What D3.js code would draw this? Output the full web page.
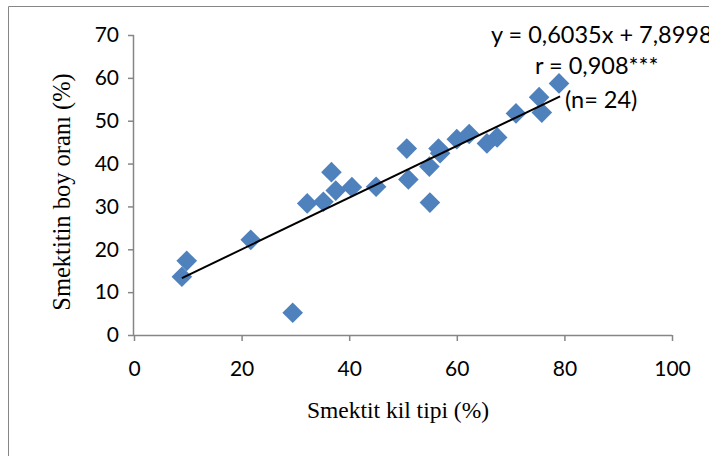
<!DOCTYPE html>
<html>
<head>
<meta charset="utf-8">
<script src="https://cdn.jsdelivr.net/npm/d3@7"></script>
<style>
  body { margin: 0; background: #fff; }
  svg { display: block; }
</style>
</head>
<body>
<svg id="chart" width="709" height="456"></svg>
<script>
// smektit kil tipi (%) vs smektitin boy oranı (%)
const clayType = [8.9, 9.8, 21.7, 29.5, 32.2, 35.2, 36.7, 37.5, 40.5, 45.0, 50.7, 51.0,
  54.9, 55.0, 56.6, 56.9, 60.0, 62.3, 65.6, 67.5, 71.0, 75.3, 75.8, 79.0];
const lengthRatio = [13.6, 17.3, 22.2, 5.2, 30.7, 31.1, 38.0, 33.7, 34.5, 34.6, 43.5, 36.3,
  39.3, 30.9, 43.5, 42.4, 45.7, 46.9, 44.7, 46.1, 51.7, 55.5, 51.9, 58.7];
const xTicks = [0, 20, 40, 60, 80, 100];
const yTicks = [0, 10, 20, 30, 40, 50, 60, 70];
const slope = 0.6035, intercept = 7.8998;
const labels = ['y = 0,6035x + 7,8998', 'r = 0,908***', '(n= 24)'];

const plot = { left: 134, right: 672, top: 35, bottom: 335 };
const axisColor = '#868686';

const svg = d3.select('#chart');

// outer frame (only top/left visible in the crop)
svg.append('path')
  .attr('d', 'M8.5,460 V6.5 H720')
  .attr('fill', 'none')
  .attr('stroke', axisColor)
  .attr('stroke-width', 1);

const x = d3.scaleLinear().domain([0, 100]).range([plot.left, plot.right]);
const y = d3.scaleLinear().domain([0, 70]).range([plot.bottom, plot.top]);

const tickFont = 'Lato, "Open Sans", sans-serif';

const xAxis = svg.append('g')
  .attr('transform', `translate(0,${plot.bottom})`)
  .call(d3.axisBottom(x).tickValues(xTicks).tickSize(6).tickPadding(20).tickFormat(d3.format('d')));

const yAxis = svg.append('g')
  .attr('transform', `translate(${plot.left},0)`)
  .call(d3.axisLeft(y).tickValues(yTicks).tickSize(6).tickPadding(9).tickFormat(d3.format('d')));

[xAxis, yAxis].forEach(g => {
  g.select('.domain').attr('stroke', axisColor).attr('stroke-width', 1.5);
  g.selectAll('.tick line').attr('stroke', axisColor).attr('stroke-width', 1.5);
  g.selectAll('.tick text')
    .attr('fill', '#000')
    .attr('font-family', tickFont)
    .attr('font-size', 21);
});
// domain without outer ticks
xAxis.select('.domain').attr('d', `M${plot.left},0.5H${plot.right}`);
yAxis.select('.domain').attr('d', `M-0.5,${plot.bottom}V${plot.top}`);

// points
const points = clayType.map((v, i) => ({ x: v, y: lengthRatio[i] }));
const diamond = d3.symbol(d3.symbolSquare, 14.6 * 14.6);
svg.append('g')
  .selectAll('path')
  .data(points)
  .join('path')
  .attr('d', diamond)
  .attr('transform', d => `translate(${x(d.x)},${y(d.y)}) rotate(45)`)
  .attr('fill', '#4F81BD');

// trend line
const xMin = d3.min(clayType), xMax = 79.2;
svg.append('line')
  .attr('x1', x(xMin)).attr('y1', y(slope * xMin + intercept))
  .attr('x2', x(xMax)).attr('y2', y(slope * xMax + intercept))
  .attr('stroke', '#000')
  .attr('stroke-width', 2);

// equation labels
const labelPos = [[491, 43], [535, 74], [565, 108]];
svg.append('g')
  .selectAll('text')
  .data(labels)
  .join('text')
  .attr('x', (d, i) => labelPos[i][0])
  .attr('y', (d, i) => labelPos[i][1])
  .attr('font-family', tickFont)
  .attr('font-size', 23.5)
  .text(d => d);

// axis titles
svg.append('text')
  .attr('x', (plot.left + plot.right) / 2 - 5)
  .attr('y', 418)
  .attr('text-anchor', 'middle')
  .attr('font-family', '"Liberation Serif", "Times New Roman", serif')
  .attr('font-size', 23.5)
  .text('Smektit kil tipi (%)');

svg.append('text')
  .attr('transform', `translate(70,${(plot.top + plot.bottom) / 2 + 7}) rotate(-90)`)
  .attr('text-anchor', 'middle')
  .attr('font-family', '"Liberation Serif", "Times New Roman", serif')
  .attr('font-size', 24.5)
  .text('Smektitin boy oranı (%)');
</script>
</body>
</html>
